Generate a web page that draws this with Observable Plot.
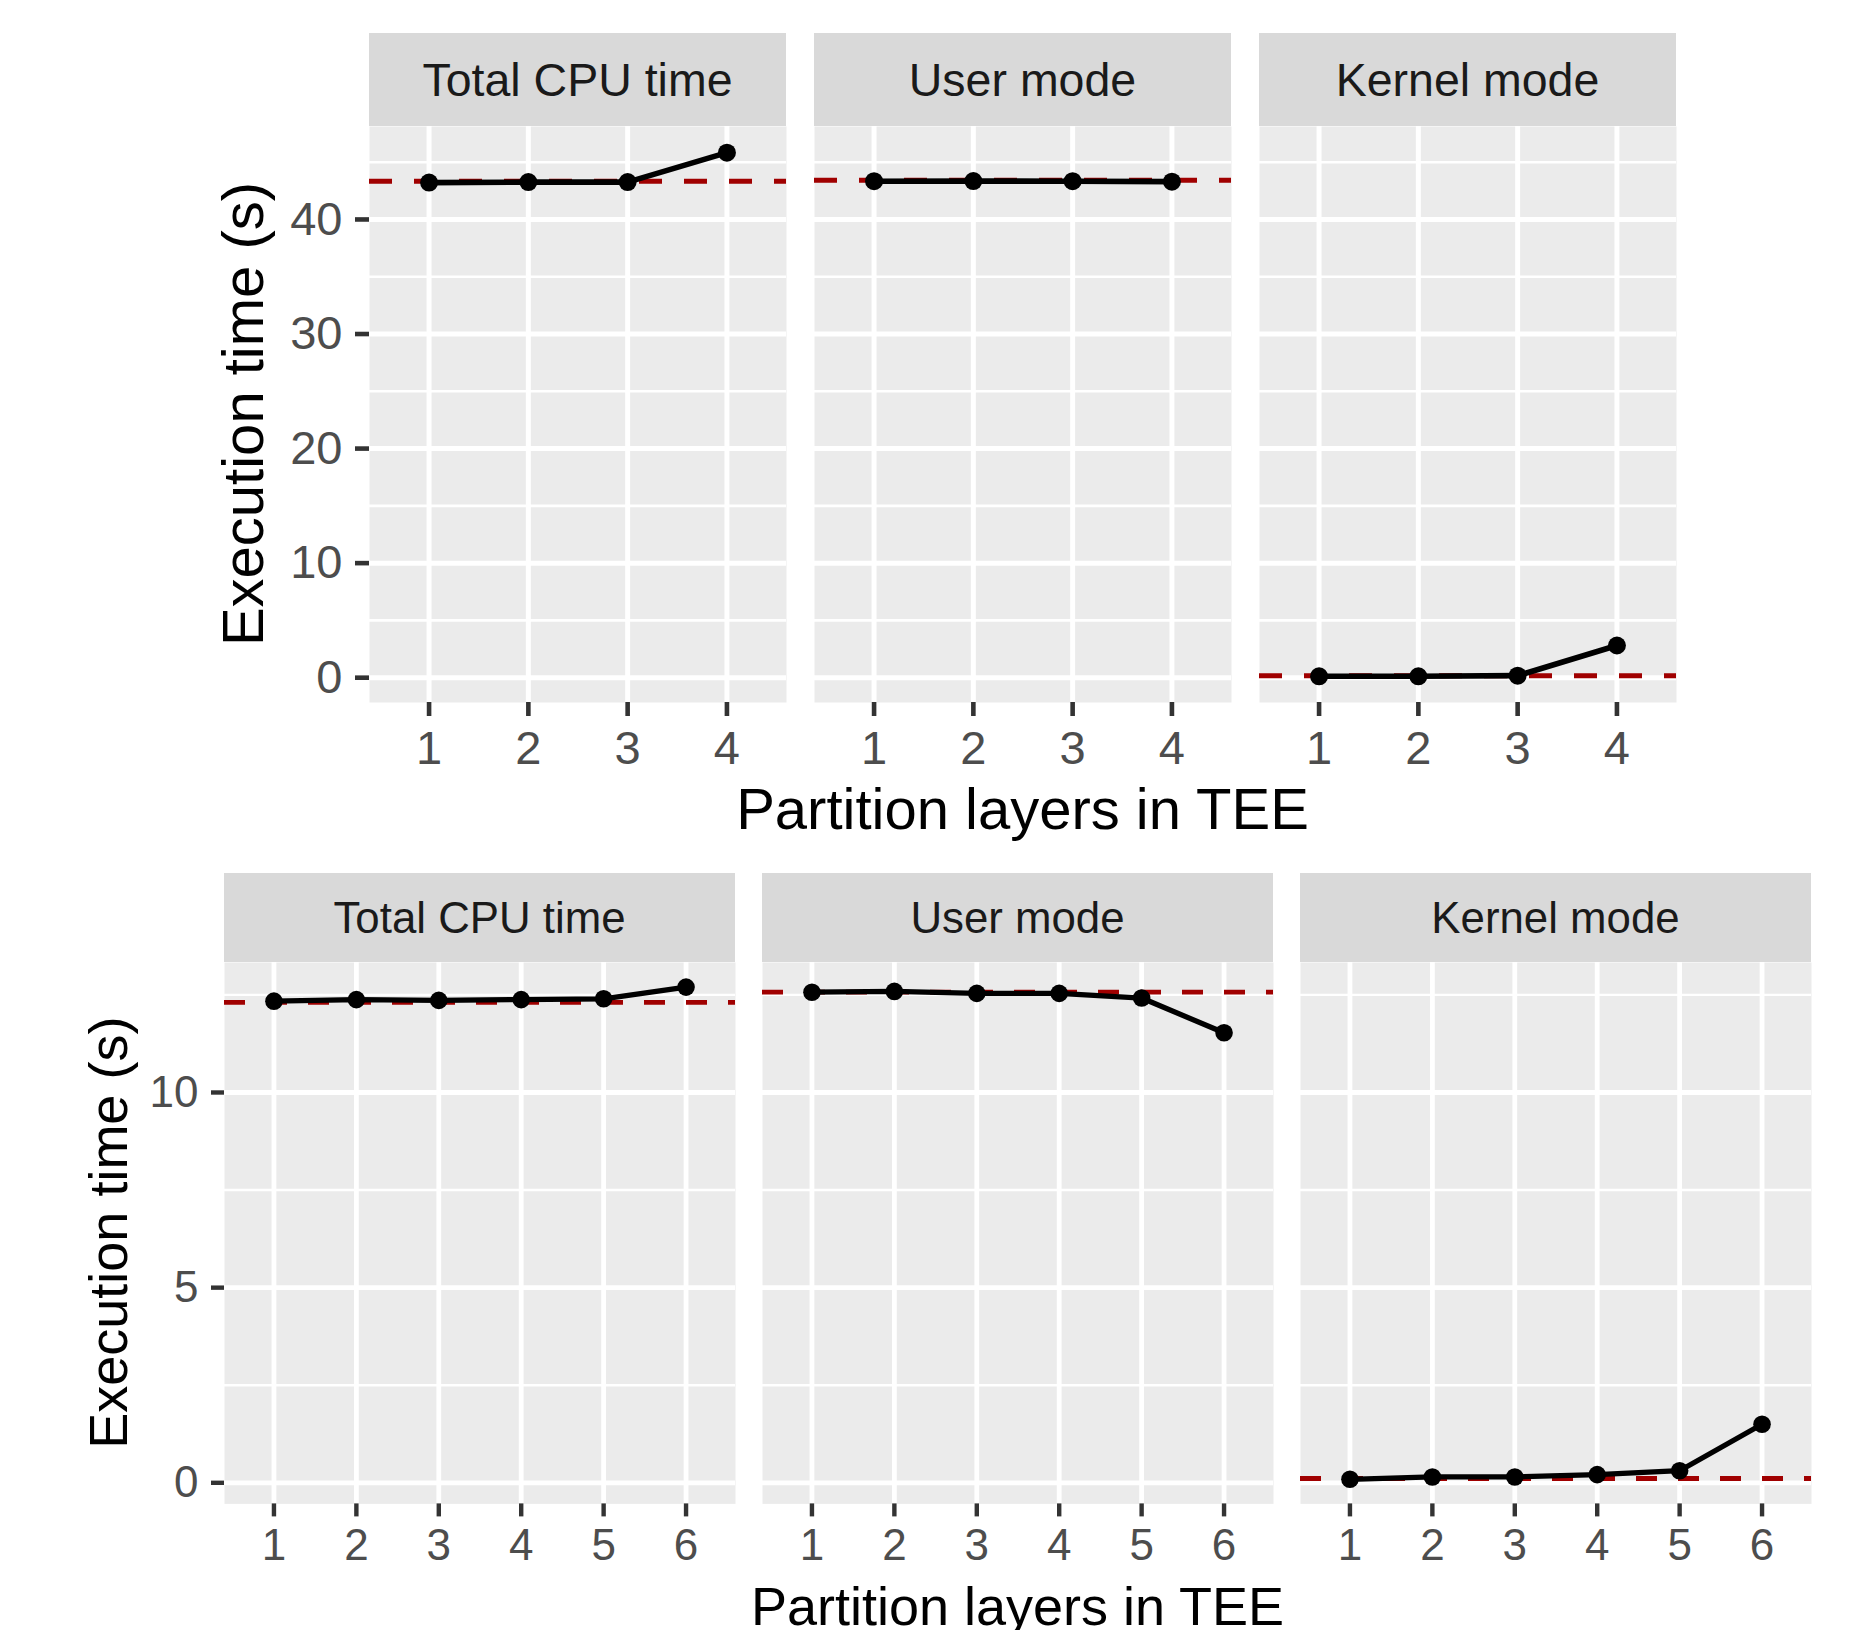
<!DOCTYPE html>
<html><head><meta charset="utf-8">
<script src="https://cdn.jsdelivr.net/npm/d3@7"></script>
<script src="https://cdn.jsdelivr.net/npm/@observablehq/plot@0.6"></script>
<style>
body{margin:0;background:#fff;}
#wrap{position:relative;width:1850px;height:1630px;overflow:hidden;background:#fff;}
#top,#bottom{position:absolute;left:0;}
#top{top:0px}
#bottom{top:850px}
</style></head><body><div id="wrap"><div id="top"></div><div id="bottom"></div></div>
<script>
const FONT = '"Liberation Sans", Arial, Helvetica, sans-serif';
const panels = ["Total CPU time", "User mode", "Kernel mode"];
const yLabel = "Execution time (s)";
const xLabel = "Partition layers in TEE";

// top chart (4 partition layers)
const topLayers = [1, 2, 3, 4];
const topTotal  = [43.22, 43.26, 43.26, 45.83];
const topUser   = [43.34, 43.35, 43.34, 43.30];
const topKernel = [0.12, 0.12, 0.18, 2.81];
const topBaseline = [43.34, 43.42, 0.18];
const topMajor = [0, 10, 20, 30, 40];
const topMinor = [5, 15, 25, 35, 45];

// bottom chart (6 partition layers)
const botLayers = [1, 2, 3, 4, 5, 6];
const botTotal  = [12.34, 12.38, 12.36, 12.38, 12.40, 12.70];
const botUser   = [12.57, 12.59, 12.54, 12.54, 12.42, 11.53];
const botKernel = [0.09, 0.15, 0.15, 0.21, 0.31, 1.50];
const botBaseline = [12.31, 12.57, 0.11];
const botMajor = [0, 5, 10];
const botMinor = [2.5, 7.5, 12.5];

function toLong(layers, series) {
  return panels.flatMap((p, i) => layers.map((l, j) => ({panel: p, layer: l, time: series[i][j]})));
}

function facetChart(c) {
  const data = toLong(c.layers, c.series);
  const base = panels.map((p, i) => ({panel: p, time: c.baselines[i]}));
  const vals = data.map(d => d.time);
  const lo = d3.min(vals), hi = d3.max(vals), pad = 0.05 * (hi - lo);
  const xs = c.layers;
  const plot = Plot.plot({
    width: 1850, height: c.height,
    marginLeft: c.mL, marginRight: c.mR, marginTop: c.mT, marginBottom: c.mB,
    fx: {domain: panels, paddingInner: c.pi, paddingOuter: 0, axis: null, label: null},
    x: {domain: [d3.min(xs) - 0.6, d3.max(xs) + 0.6], axis: null},
    y: {domain: [lo - pad, hi + pad], axis: null},
    style: {fontFamily: FONT, background: "white", overflow: "visible"},
    marks: [
      Plot.frame({fill: "#EBEBEB", stroke: null}),
      Plot.ruleY(c.minor, {stroke: "white", strokeWidth: c.minorW}),
      Plot.ruleY(c.major, {stroke: "white", strokeWidth: c.majorW}),
      Plot.ruleX(xs, {stroke: "white", strokeWidth: c.majorW}),
      Plot.ruleY(base, {fx: "panel", y: "time", stroke: "#A00000", strokeWidth: c.dashW, strokeDasharray: c.dash}),
      Plot.line(data, {fx: "panel", x: "layer", y: "time", z: "panel", stroke: "black", strokeWidth: c.lineW}),
      Plot.dot(data, {fx: "panel", x: "layer", y: "time", r: c.r, fill: "black", stroke: null}),
      Plot.axisY(c.major, {anchor: "left", facetAnchor: "left", tickSize: c.tick, tickPadding: c.yPad,
        fontSize: c.tickFont, stroke: "#333333", fill: "#4D4D4D", strokeWidth: c.tickW, label: null}),
      Plot.axisX(xs, {anchor: "bottom", facetAnchor: "bottom", tickSize: c.tick, tickPadding: c.xPad,
        fontSize: c.tickFont, stroke: "#333333", fill: "#4D4D4D", strokeWidth: c.tickW, label: null})
    ]
  });
  const svg = d3.select(plot);
  const fx = plot.scale("fx");
  const bw = fx.bandwidth;
  for (const p of panels) {
    const x0 = fx.apply(p);
    svg.append("rect").attr("x", x0).attr("y", c.stripTop).attr("width", bw).attr("height", c.stripH).attr("fill", "#D9D9D9");
    svg.append("text").attr("x", x0 + bw / 2).attr("y", c.stripTop + c.stripH / 2 + 0.36 * c.stripFont)
      .attr("text-anchor", "middle").attr("font-size", c.stripFont).attr("fill", "#1A1A1A")
      .attr("font-family", FONT).text(p);
  }
  const left = fx.apply(panels[0]);
  const right = fx.apply(panels[panels.length - 1]) + bw;
  svg.append("text").attr("x", (left + right) / 2).attr("y", c.xTitleY)
    .attr("text-anchor", "middle").attr("font-size", c.titleFont).attr("fill", "black")
    .attr("font-family", FONT).text(xLabel);
  svg.append("text").attr("transform", `translate(${c.yTitleX},${(c.mT + c.height - c.mB) / 2}) rotate(-90)`)
    .attr("text-anchor", "middle").attr("font-size", c.titleFont).attr("fill", "black")
    .attr("font-family", FONT).text(yLabel);
  return plot;
}

document.getElementById("top").appendChild(facetChart({
  layers: topLayers, series: [topTotal, topUser, topKernel], baselines: topBaseline,
  major: topMajor, minor: topMinor,
  height: 850, mL: 368, mR: 174, mT: 126, mB: 148, pi: 28.5 / 445.5,
  majorW: 5, minorW: 2.6, dashW: 5, dash: "23,22", lineW: 5.6, r: 9,
  tick: 14, yPad: 13, xPad: 14, tickFont: 47, tickW: 4.6,
  stripTop: 33, stripH: 93, stripFont: 46.5,
  titleFont: 58, xTitleY: 829, yTitleX: 263
}));

document.getElementById("bottom").appendChild(facetChart({
  layers: botLayers, series: [botTotal, botUser, botKernel], baselines: botBaseline,
  major: botMajor, minor: botMinor,
  height: 780, mL: 224, mR: 39, mT: 112, mB: 126.6, pi: 27 / 538,
  majorW: 4.8, minorW: 2.4, dashW: 4.8, dash: "21,21", lineW: 5.3, r: 8.8,
  tick: 13, yPad: 13, xPad: 12, tickFont: 44, tickW: 4.4,
  stripTop: 23, stripH: 89, stripFont: 43.8,
  titleFont: 54, xTitleY: 775, yTitleX: 127
}));
</script></body></html>
